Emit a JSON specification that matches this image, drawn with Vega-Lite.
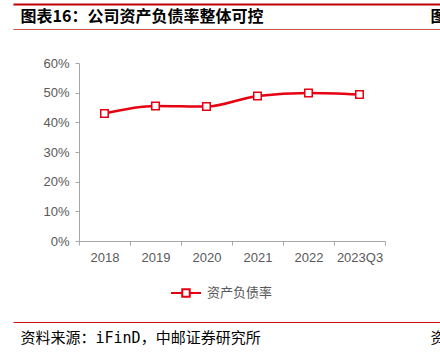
{
  "$schema": "https://vega.github.io/schema/vega-lite/v6.json",
  "width": 427,
  "height": 178,
  "autosize": {"type": "none"},
  "padding": {"left": 13, "top": 63, "right": 0, "bottom": 111},
  "background": "white",
  "config": {"view": {"stroke": null}, "axis": {"grid": false}, "axisY": {"labelOverlap": false}, "axisLeft": {"labelOverlap": false}},
  "data": {"values": [
    {"year": "2018", "value": 0.430, "s": "资产负债率"},
    {"year": "2019", "value": 0.455, "s": "资产负债率"},
    {"year": "2020", "value": 0.453, "s": "资产负债率"},
    {"year": "2021", "value": 0.489, "s": "资产负债率"},
    {"year": "2022", "value": 0.499, "s": "资产负债率"},
    {"year": "2023Q3", "value": 0.494, "s": "资产负债率"}
  ]},
  "layer": [
    {"mark": {"type": "line", "interpolate": "monotone", "strokeWidth": 2.5},
     "encoding": {
       "x": {"field": "year", "type": "ordinal", "sort": null,
             "scale": {"type": "band", "range": [66, 372], "paddingInner": 0, "paddingOuter": 0},
             "axis": {"title": null, "labelAngle": 0, "domainColor": "#A6A6A6", "tickColor": "#A6A6A6", "tickSize": 4, "tickBand": "extent", "labelPadding": 6, "labelColor": "#595959", "labelFont": "Liberation Sans", "labelFontSize": 13, "labelOverlap": false}},
       "y": {"field": "value", "type": "quantitative",
             "scale": {"domain": [0, 0.6], "nice": false},
             "axis": {"orient": "left", "offset": -66, "tickCount": 7, "values": [0, 0.1, 0.2, 0.3, 0.4, 0.5, 0.6], "format": ".0%", "title": null, "domainColor": "#A6A6A6", "tickColor": "#A6A6A6", "tickSize": 4, "labelPadding": 6, "labelColor": "#595959", "labelFont": "Liberation Sans", "labelFontSize": 13, "labelOverlap": false, "labelFlush": false}},
       "color": {"field": "s", "type": "nominal", "scale": {"range": ["#E60012"]},
                 "legend": {"orient": "none", "legendX": 157, "legendY": 214, "direction": "horizontal", "title": null, "padding": 0,
                            "symbolType": "M-1,0H-0.25M0.25,0H1M-0.25,-0.25H0.25V0.25H-0.25Z", "symbolSize": 900, "symbolStrokeWidth": 2, "symbolFillColor": "white", "symbolStrokeColor": "#E60012",
                            "labelFont": "Noto Sans CJK SC", "labelFontSize": 13, "labelColor": "#595959", "labelOffset": 5}}
     }},
    {"mark": {"type": "point", "shape": "square", "filled": true, "fill": "white", "stroke": "#E60012", "strokeWidth": 1.5, "size": 56, "opacity": 1},
     "encoding": {
       "x": {"field": "year", "type": "ordinal", "sort": null,
             "scale": {"type": "band", "range": [66, 372], "paddingInner": 0, "paddingOuter": 0}, "axis": null},
       "y": {"field": "value", "type": "quantitative"}
     }},
    {"mark": {"type": "point", "opacity": 0},
     "encoding": {"x": {"field": "year", "type": "nominal", "sort": null,
       "axis": {"orient": "top", "offset": 34, "domainColor": "#D4504A", "domainWidth": 1, "ticks": false, "labels": false,
                "title": "图表16：公司资产负债率整体可控", "titleAnchor": "start", "titleAlign": "left", "titleBaseline": "middle", "titleX": 7, "titleY": -13,
                "titleFont": "Noto Sans CJK SC", "titleFontSize": 16, "titleFontWeight": "bold", "titleColor": "#000000", "titlePadding": 0}}}},
    {"mark": {"type": "point", "opacity": 0},
     "encoding": {"x": {"field": "year", "type": "nominal", "sort": null,
       "axis": {"orient": "top", "offset": 59, "domainColor": "#C00000", "domainWidth": 2, "ticks": false, "labels": false,
                "title": "图", "titleAnchor": "start", "titleAlign": "left", "titleBaseline": "middle", "titleX": 417, "titleY": 12,
                "titleFont": "Noto Sans CJK SC", "titleFontSize": 16, "titleFontWeight": "bold", "titleColor": "#000000", "titlePadding": 0}}}},
    {"mark": {"type": "point", "opacity": 0},
     "encoding": {"x": {"field": "year", "type": "nominal", "sort": null,
       "axis": {"orient": "bottom", "offset": 81, "domainColor": "#D01010", "domainWidth": 1, "ticks": false, "labels": false,
                "title": "资料来源：iFinD，中邮证券研究所", "titleAnchor": "start", "titleAlign": "left", "titleBaseline": "middle", "titleX": 7, "titleY": 15,
                "titleFont": "DejaVu Sans Mono, Noto Sans CJK SC", "titleFontSize": 15, "titleFontWeight": "normal", "titleColor": "#000000", "titlePadding": 0}}}},
    {"mark": {"type": "point", "opacity": 0},
     "encoding": {"x": {"field": "year", "type": "nominal", "sort": null,
       "axis": {"orient": "bottom", "offset": 81, "domain": false, "ticks": false, "labels": false,
                "title": "资", "titleAnchor": "start", "titleAlign": "left", "titleBaseline": "middle", "titleX": 417, "titleY": 15,
                "titleFont": "Noto Sans CJK SC", "titleFontSize": 15, "titleFontWeight": "normal", "titleColor": "#000000", "titlePadding": 0}}}}
  ],
  "resolve": {"scale": {"x": "independent"}, "axis": {"x": "independent"}}
}
